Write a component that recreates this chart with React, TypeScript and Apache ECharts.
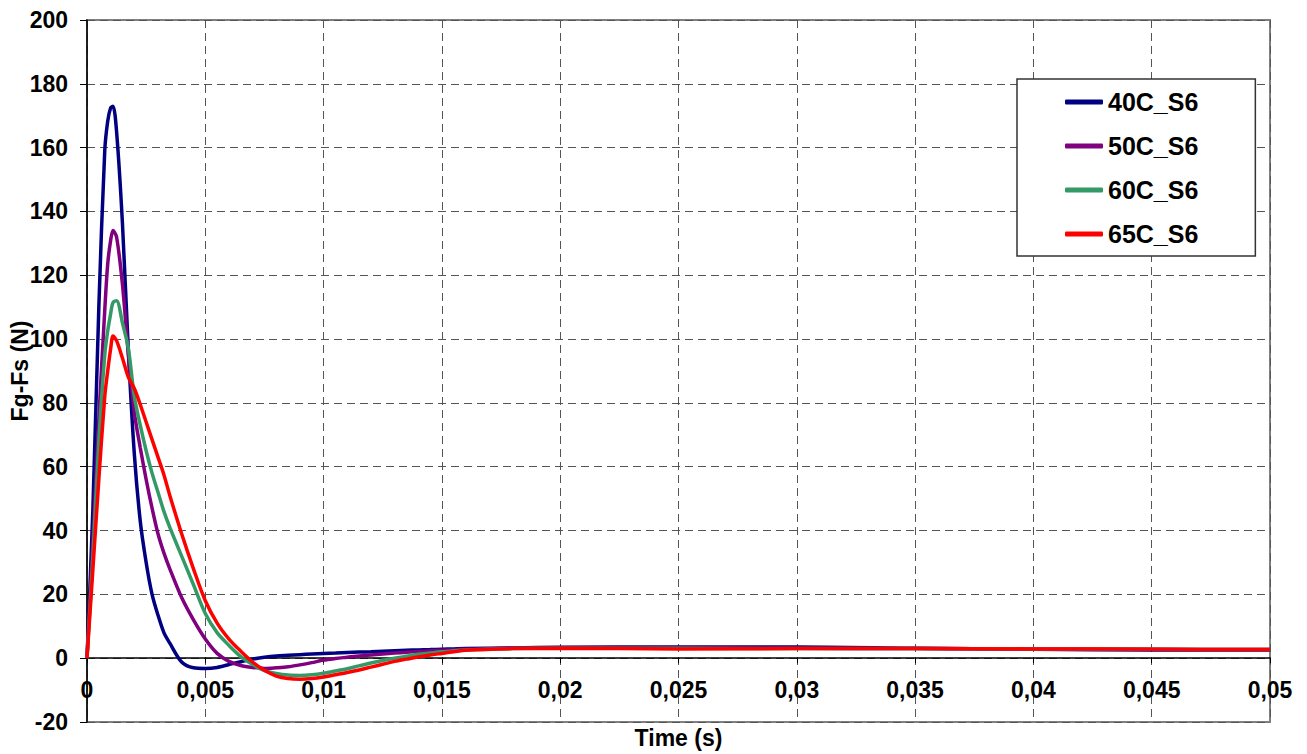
import React, { useEffect, useRef } from 'react';
import * as echarts from 'echarts';

const TIME = [0, 0.00025, 0.0005, 0.00075, 0.000875, 0.001, 0.0011, 0.00125, 0.0015, 0.00175, 0.002, 0.00225, 0.0025, 0.00275, 0.003, 0.00325, 0.0035, 0.004, 0.0045, 0.005, 0.0055, 0.006, 0.0065, 0.007, 0.0075, 0.008, 0.0085, 0.009, 0.0095, 0.01, 0.0105, 0.011, 0.0115, 0.012, 0.0125, 0.013, 0.0135, 0.014, 0.0145, 0.015, 0.0155, 0.016, 0.018, 0.02, 0.025, 0.03, 0.035, 0.04, 0.045, 0.05];

const S40C = [0, 47, 110, 159, 168.3, 172.5, 173, 165, 136, 96, 64, 43, 30, 20, 13.5, 8, 4.7, -1.2, -3, -3.2, -2.9, -2, -1.1, -0.3, 0.3, 0.7, 0.9, 1.1, 1.3, 1.5, 1.65, 1.8, 1.9, 2.0, 2.15, 2.3, 2.45, 2.6, 2.7, 2.8, 2.9, 3.0, 3.2, 3.4, 3.5, 3.5, 3.1, 2.8, 2.6, 2.6];
const S50C = [0, 37, 75, 109, 123.5, 131, 134, 132, 117, 95, 77, 66, 56, 47, 39, 33, 28, 19, 12, 6, 1.5, -1.0, -2.3, -2.9, -3.2, -3.0, -2.7, -2.1, -1.4, -0.6, -0.1, 0.3, 0.7, 1.0, 1.3, 1.6, 1.85, 2.1, 2.3, 2.5, 2.65, 2.8, 3.1, 3.2, 3.2, 3.1, 3.0, 2.9, 2.8, 2.7];
const S60C = [0, 32, 68, 95, 102.5, 108, 111.5, 112, 105, 97, 82, 73, 65, 58, 52, 46, 41, 32, 23, 14, 8, 4, 0.5, -2, -3.9, -4.8, -5.3, -5.4, -5.2, -4.7, -4.0, -3.3, -2.4, -1.5, -0.7, 0, 0.6, 1.2, 1.6, 2.0, 2.3, 2.6, 3.0, 3.1, 3.1, 3.0, 3.0, 2.9, 2.8, 2.7];
const S65C = [0, 28, 56, 82, 90, 97, 101, 99.5, 94, 88, 84.5, 79.5, 74, 68.5, 63, 57.5, 51, 39, 28, 18, 11, 6, 2.2, -1.2, -3.8, -5.6, -6.4, -6.6, -6.4, -5.9, -5.2, -4.5, -3.7, -2.8, -1.9, -1.0, -0.3, 0.4, 1.0, 1.5, 2.0, 2.5, 3.0, 3.1, 2.9, 3.0, 3.0, 2.9, 2.8, 2.7];

const SERIES_NAMES = ['40C_S6', '50C_S6', '60C_S6', '65C_S6'];
const SERIES_VALUES = [S40C, S50C, S60C, S65C];
const SERIES_COLORS = ['#000080', '#800080', '#339966', '#FF0000'];

const X_NAME = 'Time (s)';
const Y_NAME = 'Fg-Fs (N)';

const FONT = '"Liberation Sans", Arial, sans-serif';

export default function App() {
  const ref = useRef<HTMLDivElement>(null);
  useEffect(() => {
    const chart = echarts.init(ref.current!, null, { renderer: 'svg' });
    chart.setOption({
      animation: false,
      backgroundColor: '#ffffff',
      textStyle: { fontFamily: FONT },
      grid: {
        left: 87,
        right: 37,
        top: 20,
        bottom: 32,
        show: true,
        borderColor: '#808080',
        borderWidth: 2,
        containLabel: false,
        outerBoundsMode: 'none',
      },
      legend: {
        orient: 'vertical',
        left: 1017,
        top: 79,
        padding: [8, 57, 7, 48],
        backgroundColor: '#ffffff',
        borderColor: '#333333',
        borderWidth: 1.5,
        borderRadius: 0,
        itemWidth: 38,
        itemHeight: 5,
        itemGap: 14,
        icon: 'roundRect',
        textStyle: { fontSize: 25, fontWeight: 'bold', color: '#000', fontFamily: FONT, lineHeight: 30 },
        data: SERIES_NAMES,
      },
      xAxis: {
        type: 'value',
        min: 0,
        max: 0.05,
        interval: 0.005,
        name: X_NAME,
        nameLocation: 'middle',
        nameGap: 4,
        nameMoveOverlap: false,
        nameTextStyle: { fontSize: 23, fontWeight: 'bold', color: '#000', fontFamily: FONT },
        axisLine: { show: true, onZero: true, lineStyle: { color: '#000', width: 1.5 } },
        axisTick: { show: true, length: 5, lineStyle: { color: '#000' } },
        axisLabel: {
          margin: -44,
          fontSize: 23,
          fontWeight: 'bold',
          color: '#000',
          fontFamily: FONT,
          formatter: (v: number) => String(parseFloat(v.toFixed(4))).replace('.', ','),
        },
        splitLine: { show: true, lineStyle: { color: '#555', type: [8, 5], width: 1 } },
      },
      yAxis: {
        type: 'value',
        min: -20,
        max: 200,
        interval: 20,
        name: Y_NAME,
        nameLocation: 'middle',
        nameGap: 56,
        nameMoveOverlap: false,
        nameTextStyle: { fontSize: 23, fontWeight: 'bold', color: '#000', fontFamily: FONT },
        axisLine: { show: true, lineStyle: { color: '#000', width: 1.5 } },
        axisTick: { show: true, length: 7, lineStyle: { color: '#000' } },
        axisLabel: { margin: 19, fontSize: 23, fontWeight: 'bold', color: '#000', fontFamily: FONT },
        splitLine: { show: true, lineStyle: { color: '#555', type: [8, 5], width: 1 } },
      },
      series: SERIES_NAMES.map((name, si) => ({
        name,
        type: 'line',
        showSymbol: false,
        symbol: 'none',
        smooth: 0.3,
        color: SERIES_COLORS[si],
        lineStyle: { width: 3.5, color: SERIES_COLORS[si] },
        data: TIME.map((t, i) => [t, SERIES_VALUES[si][i]]),
      })),
    });
    return () => chart.dispose();
  }, []);
  return <div ref={ref} style={{ position: 'absolute', left: 0, top: 0, width: 1307, height: 754 }} />;
}
